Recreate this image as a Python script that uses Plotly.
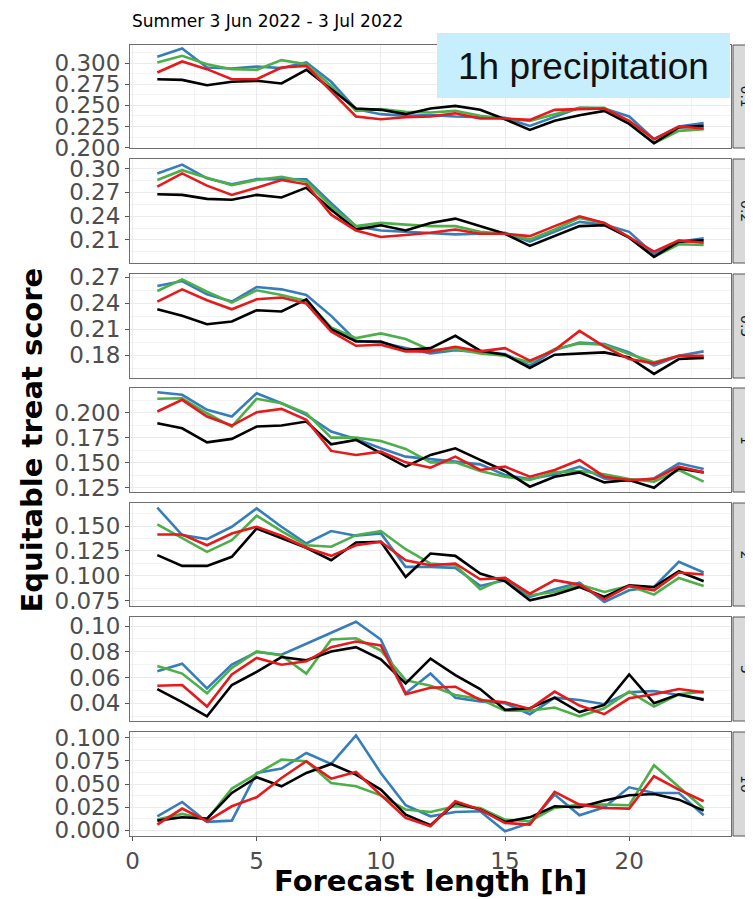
import plotly.graph_objects as go

hours = list(range(1, 24))
thresholds = ["0.1", "0.2", "0.5", "1", "2", "5", "10"]
title_text = "Summer 3 Jun 2022 - 3 Jul 2022"
box_text = "1h precipitation"
x_title = "Forecast length [h]"
y_title = "Equitable treat score"

# ---- threshold 0.1
blue_01 = [0.3075, 0.3174, 0.2949, 0.2937, 0.2960, 0.2941, 0.3008, 0.2779, 0.2455, 0.2396, 0.2376, 0.2384,
           0.2368, 0.2360, 0.2352, 0.2257, 0.2368, 0.2470, 0.2463, 0.2368, 0.2100, 0.2250, 0.2290]
green_01 = [0.3008, 0.3087, 0.2988, 0.2929, 0.2921, 0.3036, 0.2988, 0.2731, 0.2435, 0.2455, 0.2423, 0.2415,
            0.2435, 0.2376, 0.2344, 0.2317, 0.2396, 0.2470, 0.2470, 0.2290, 0.2052, 0.2198, 0.2218]
red_01 = [0.2889, 0.3020, 0.2929, 0.2810, 0.2810, 0.2949, 0.2968, 0.2672, 0.2368, 0.2336, 0.2360, 0.2368,
          0.2407, 0.2344, 0.2344, 0.2328, 0.2447, 0.2455, 0.2463, 0.2317, 0.2100, 0.2250, 0.2226]
black_01 = [0.2810, 0.2802, 0.2739, 0.2779, 0.2791, 0.2759, 0.2921, 0.2692, 0.2463, 0.2447, 0.2396, 0.2463,
            0.2494, 0.2447, 0.2336, 0.2210, 0.2317, 0.2384, 0.2435, 0.2281, 0.2052, 0.2238, 0.2257]

# ---- threshold 0.2
blue_02 = [0.2938, 0.3050, 0.2876, 0.2801, 0.2867, 0.2867, 0.2863, 0.2564, 0.2274, 0.2220, 0.2203, 0.2191,
           0.2170, 0.2178, 0.2191, 0.2079, 0.2203, 0.2328, 0.2294, 0.2203, 0.1921, 0.2079, 0.2120]
green_02 = [0.2855, 0.2979, 0.2884, 0.2792, 0.2855, 0.2896, 0.2834, 0.2523, 0.2274, 0.2315, 0.2294, 0.2274,
            0.2274, 0.2203, 0.2178, 0.2108, 0.2232, 0.2378, 0.2315, 0.2137, 0.1888, 0.2046, 0.2037]
red_02 = [0.2772, 0.2938, 0.2784, 0.2668, 0.2759, 0.2855, 0.2801, 0.2419, 0.2220, 0.2137, 0.2162, 0.2191,
          0.2232, 0.2178, 0.2178, 0.2149, 0.2274, 0.2398, 0.2315, 0.2129, 0.1954, 0.2095, 0.2066]
black_02 = [0.2676, 0.2668, 0.2618, 0.2606, 0.2668, 0.2635, 0.2759, 0.2481, 0.2232, 0.2286, 0.2220, 0.2315,
            0.2369, 0.2274, 0.2178, 0.2025, 0.2149, 0.2274, 0.2286, 0.2129, 0.1888, 0.2079, 0.2095]

# ---- threshold 0.5
blue_05 = [0.2597, 0.2654, 0.2501, 0.2417, 0.2585, 0.2558, 0.2493, 0.2252, 0.1965, 0.1945, 0.1880, 0.1819,
           0.1857, 0.1830, 0.1811, 0.1677, 0.1857, 0.1945, 0.1926, 0.1830, 0.1677, 0.1792, 0.1842]
green_05 = [0.2539, 0.2673, 0.2531, 0.2405, 0.2547, 0.2493, 0.2424, 0.2118, 0.1995, 0.2049, 0.1984, 0.1857,
            0.1869, 0.1819, 0.1792, 0.1716, 0.1869, 0.1934, 0.1919, 0.1811, 0.1716, 0.1792, 0.1765]
red_05 = [0.2417, 0.2558, 0.2432, 0.2328, 0.2443, 0.2463, 0.2394, 0.2072, 0.1907, 0.1919, 0.1842, 0.1842,
          0.1896, 0.1842, 0.1880, 0.1735, 0.1857, 0.2078, 0.1896, 0.1754, 0.1704, 0.1792, 0.1792]
black_05 = [0.2328, 0.2252, 0.2156, 0.2187, 0.2317, 0.2302, 0.2443, 0.2099, 0.1957, 0.1957, 0.1857, 0.1880,
            0.2022, 0.1850, 0.1804, 0.1651, 0.1804, 0.1819, 0.1830, 0.1773, 0.1582, 0.1754, 0.1765]

# ---- threshold 1
blue_1 = [0.2203, 0.2177, 0.2027, 0.1960, 0.2193, 0.2093, 0.1977, 0.1810, 0.1737, 0.1643, 0.1560, 0.1537,
          0.1510, 0.1483, 0.1377, 0.1337, 0.1383, 0.1460, 0.1343, 0.1317, 0.1343, 0.1493, 0.1437]
green_1 = [0.2137, 0.2143, 0.1993, 0.1860, 0.2137, 0.2093, 0.1993, 0.1750, 0.1750, 0.1717, 0.1637, 0.1503,
           0.1503, 0.1417, 0.1360, 0.1327, 0.1403, 0.1417, 0.1383, 0.1337, 0.1310, 0.1427, 0.1310]
red_1 = [0.2010, 0.2127, 0.1960, 0.1870, 0.2003, 0.2037, 0.1927, 0.1617, 0.1577, 0.1610, 0.1503, 0.1450,
         0.1560, 0.1427, 0.1460, 0.1360, 0.1427, 0.1527, 0.1360, 0.1327, 0.1337, 0.1460, 0.1403]
black_1 = [0.1893, 0.1843, 0.1703, 0.1737, 0.1860, 0.1870, 0.1910, 0.1683, 0.1727, 0.1593, 0.1460, 0.1577,
           0.1643, 0.1527, 0.1417, 0.1260, 0.1360, 0.1403, 0.1303, 0.1327, 0.1250, 0.1443, 0.1403]

# ---- threshold 2
blue_2 = [0.1685, 0.1409, 0.1369, 0.1493, 0.1678, 0.1493, 0.1325, 0.1450, 0.1403, 0.1426, 0.1090, 0.1090,
          0.1080, 0.0899, 0.0956, 0.0788, 0.0865, 0.0932, 0.0737, 0.0855, 0.0888, 0.1140, 0.1033]
green_2 = [0.1517, 0.1382, 0.1241, 0.1359, 0.1604, 0.1450, 0.1308, 0.1292, 0.1409, 0.1450, 0.1268, 0.1124,
           0.1107, 0.0865, 0.0979, 0.0805, 0.0838, 0.0912, 0.0838, 0.0899, 0.0811, 0.0979, 0.0899]
red_2 = [0.1416, 0.1416, 0.1308, 0.1426, 0.1493, 0.1403, 0.1282, 0.1201, 0.1308, 0.1342, 0.1157, 0.1107,
         0.1124, 0.0966, 0.0979, 0.0821, 0.0956, 0.0912, 0.0764, 0.0899, 0.0855, 0.1033, 0.1013]
black_2 = [0.1208, 0.1100, 0.1100, 0.1191, 0.1476, 0.1382, 0.1282, 0.1157, 0.1335, 0.1342, 0.0989, 0.1224,
           0.1201, 0.1023, 0.0946, 0.0754, 0.0811, 0.0888, 0.0788, 0.0905, 0.0888, 0.1046, 0.0946]

# ---- threshold 5
blue_5 = [0.0649, 0.0708, 0.0516, 0.0700, 0.0798, 0.0777, 0.0862, 0.0946, 0.1033, 0.0895, 0.0478, 0.0631,
          0.0444, 0.0414, 0.0401, 0.0316, 0.0444, 0.0426, 0.0393, 0.0485, 0.0496, 0.0465, 0.0434]
green_5 = [0.0690, 0.0631, 0.0478, 0.0675, 0.0803, 0.0772, 0.0631, 0.0895, 0.0905, 0.0810, 0.0580, 0.0537,
           0.0465, 0.0434, 0.0342, 0.0342, 0.0368, 0.0299, 0.0362, 0.0491, 0.0375, 0.0470, 0.0491]
red_5 = [0.0537, 0.0542, 0.0375, 0.0624, 0.0752, 0.0700, 0.0726, 0.0836, 0.0880, 0.0849, 0.0470, 0.0521,
         0.0529, 0.0426, 0.0409, 0.0357, 0.0491, 0.0383, 0.0316, 0.0439, 0.0470, 0.0511, 0.0485]
black_5 = [0.0511, 0.0409, 0.0299, 0.0542, 0.0644, 0.0759, 0.0734, 0.0803, 0.0836, 0.0741, 0.0554, 0.0747,
           0.0619, 0.0511, 0.0350, 0.0362, 0.0444, 0.0332, 0.0388, 0.0624, 0.0401, 0.0470, 0.0427]

# ---- threshold 10
blue_10 = [0.0149, 0.0305, 0.0088, 0.0102, 0.0620, 0.0667, 0.0837, 0.0718, 0.1029, 0.0620, 0.0269, 0.0149,
           0.0196, 0.0204, -0.0014, 0.0077, 0.0385, 0.0160, 0.0247, 0.0464, 0.0403, 0.0403, 0.0160]
green_10 = [0.0113, 0.0175, 0.0113, 0.0450, 0.0609, 0.0765, 0.0747, 0.0511, 0.0475, 0.0377, 0.0222, 0.0196,
            0.0258, 0.0240, 0.0113, 0.0095, 0.0240, 0.0276, 0.0276, 0.0269, 0.0703, 0.0464, 0.0233]
red_10 = [0.0059, 0.0233, 0.0095, 0.0258, 0.0356, 0.0566, 0.0747, 0.0558, 0.0631, 0.0385, 0.0131, 0.0041,
          0.0312, 0.0222, 0.0077, 0.0059, 0.0414, 0.0276, 0.0240, 0.0233, 0.0584, 0.0439, 0.0312]
black_10 = [0.0102, 0.0138, 0.0124, 0.0403, 0.0573, 0.0475, 0.0620, 0.0718, 0.0602, 0.0439, 0.0167, 0.0052,
            0.0294, 0.0222, 0.0088, 0.0138, 0.0258, 0.0247, 0.0320, 0.0377, 0.0392, 0.0330, 0.0211]

series_blue = [blue_01, blue_02, blue_05, blue_1, blue_2, blue_5, blue_10]
series_green = [green_01, green_02, green_05, green_1, green_2, green_5, green_10]
series_red = [red_01, red_02, red_05, red_1, red_2, red_5, red_10]
series_black = [black_01, black_02, black_05, black_1, black_2, black_5, black_10]

# ---- layout constants (screen pixels; page body has an 8px default margin)
OFF = 8
W, H = 753, 899
FIG_W, FIG_H = W - OFF, H - OFF
PL, PR, PT, PB = 130, 731, 45, 836            # plot area in screen pixels
PW, PH = PR - PL, PB - PT
panel_top = [45, 159, 274, 388, 503, 617, 732]
panel_bot = [148, 263, 378, 492, 606, 721, 836]
y_ranges = [[0.1995, 0.3215], [0.181, 0.312], [0.1535, 0.2735], [0.1207, 0.2245],
            [0.0697, 0.1732], [0.0263, 0.107], [-0.0065, 0.1065]]
y_dticks = [0.025, 0.03, 0.03, 0.025, 0.025, 0.02, 0.025]
y_formats = [".3f", ".2f", ".2f", ".3f", ".3f", ".2f", ".3f"]

def px_x(p):
    return (p - PL) / PW

def px_y(p):
    return (PB - p) / PH

colors = {"blue": "#377EB8", "green": "#4DAF4A", "black": "#000000", "red": "#E41A1C"}
order = [("blue", series_blue), ("green", series_green), ("black", series_black), ("red", series_red)]

FONT = "DejaVu Sans"
grid_major = "#EBEBEB"
grid_minor = "#F3F3F3"
border = "#6E6E6E"

fig = go.Figure()
for i in range(7):
    xr = "x" if i == 0 else f"x{i+1}"
    yr = "y" if i == 0 else f"y{i+1}"
    for name, ser in order:
        fig.add_trace(go.Scatter(x=hours, y=ser[i], mode="lines", xaxis=xr, yaxis=yr,
                                 line=dict(color=colors[name], width=2.6), showlegend=False,
                                 hoverinfo="skip"))

layout = dict(width=FIG_W, height=FIG_H,
              margin=dict(l=PL - OFF, r=(OFF + FIG_W) - PR, t=PT - OFF, b=(OFF + FIG_H) - PB,
                          autoexpand=False),
              plot_bgcolor="white", paper_bgcolor="white", showlegend=False,
              font=dict(family=FONT))
shapes = []
annotations = []
for i in range(7):
    xa = "xaxis" if i == 0 else f"xaxis{i+1}"
    ya = "yaxis" if i == 0 else f"yaxis{i+1}"
    yanchor = "y" if i == 0 else f"y{i+1}"
    xanchor = "x" if i == 0 else f"x{i+1}"
    dom = [px_y(panel_bot[i]), px_y(panel_top[i])]
    layout[xa] = dict(domain=[0, 1], anchor=yanchor, range=[-0.1, 24.1], tick0=0, dtick=5,
                      showgrid=True, gridcolor=grid_major, gridwidth=1.3,
                      minor=dict(tick0=0, dtick=2.5, showgrid=True, gridcolor=grid_minor, gridwidth=0.7),
                      zeroline=False, showline=True, mirror=True, linecolor=border, linewidth=1,
                      showticklabels=(i == 6), ticks="outside" if i == 6 else "",
                      ticklen=4, tickcolor="#555555",
                      tickfont=dict(size=23, color="#4D4D4D", family=FONT))
    d = y_dticks[i]
    layout[ya] = dict(domain=dom, anchor=xanchor, range=y_ranges[i], tick0=0, dtick=d,
                      tickformat=y_formats[i],
                      showgrid=True, gridcolor=grid_major, gridwidth=1.3,
                      minor=dict(tick0=0, dtick=d / 2, showgrid=True, gridcolor=grid_minor, gridwidth=0.7),
                      zeroline=False, showline=True, mirror=True, linecolor=border, linewidth=1,
                      ticks="outside", ticklen=4, tickcolor="#555555",
                      tickfont=dict(size=23, color="#4D4D4D", family=FONT))
    # strip on the right
    shapes.append(dict(type="rect", xref="paper", yref="paper",
                       x0=px_x(733), x1=px_x(765), y0=dom[0], y1=dom[1],
                       fillcolor="#D9D9D9", line=dict(color="#555555", width=1), layer="above"))
    annotations.append(dict(text=thresholds[i], xref="paper", yref="paper",
                            x=px_x(746), y=(dom[0] + dom[1]) / 2, showarrow=False,
                            textangle=90, xanchor="center", yanchor="middle",
                            font=dict(size=14, color="#1A1A1A", family=FONT)))

# overlay label box
shapes.append(dict(type="rect", xref="paper", yref="paper",
                   x0=px_x(437), x1=px_x(730), y0=px_y(98), y1=px_y(33),
                   fillcolor="#C6EEFC", line=dict(width=0), layer="above"))
annotations.append(dict(text=box_text, xref="paper", yref="paper", x=px_x(583), y=px_y(66),
                        showarrow=False, xanchor="center", yanchor="middle",
                        font=dict(size=37, color="#111111", family="Liberation Sans")))
# title
annotations.append(dict(text=title_text, xref="paper", yref="paper", x=0, y=px_y(21),
                        showarrow=False, xanchor="left", yanchor="middle",
                        font=dict(size=17, color="#000000", family=FONT)))
# axis titles
annotations.append(dict(text="<b>" + x_title + "</b>", xref="paper", yref="paper", x=0.5, y=px_y(881),
                        showarrow=False, xanchor="center", yanchor="middle",
                        font=dict(size=29, color="#000000", family=FONT)))
annotations.append(dict(text="<b>" + y_title + "</b>", xref="paper", yref="paper", x=px_x(31), y=0.5,
                        showarrow=False, xanchor="center", yanchor="middle", textangle=-90,
                        font=dict(size=29, color="#000000", family=FONT)))

layout["shapes"] = shapes
layout["annotations"] = annotations
fig.update_layout(**layout)
fig.write_html("out.html")
